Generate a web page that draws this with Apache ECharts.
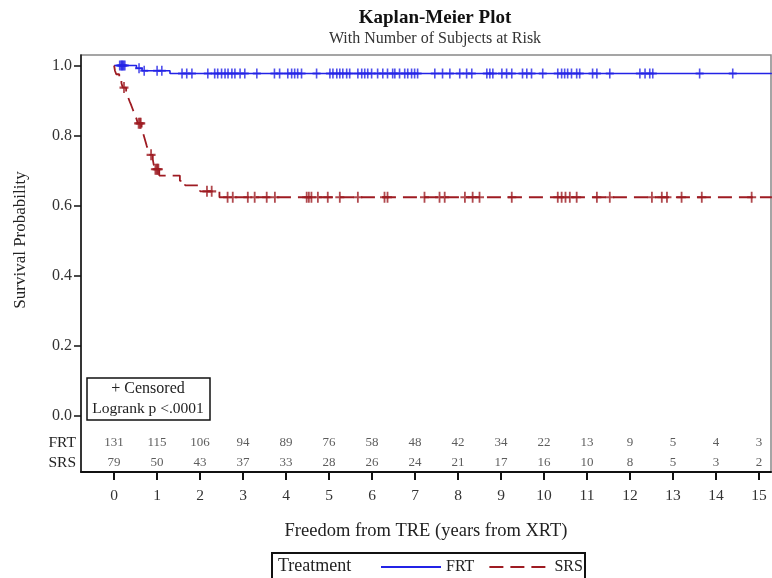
<!DOCTYPE html>
<html><head><meta charset="utf-8">
<script src="https://cdn.jsdelivr.net/npm/echarts@6/dist/echarts.min.js"></script>
<style>html,body{margin:0;padding:0;background:#fff}#c{width:772px;height:578px}</style>
</head><body><div id="c"></div>
<script>
// ---- data ----
const xTicks = [0,1,2,3,4,5,6,7,8,9,10,11,12,13,14,15];
const yTicks = [0,0.2,0.4,0.6,0.8,1.0];
const frtAtRisk = [131,115,106,94,89,76,58,48,42,34,22,13,9,5,4,3];
const srsAtRisk = [79,50,43,37,33,28,26,24,21,17,16,10,8,5,3,2];
// KM steps: [time, survival from that time on]
const frtSteps = [[0,1.0],[0.52,0.992],[0.65,0.985],[1.3,0.977],[15.3,0.977]];
const srsSteps = [[0,1.0],[0.02,0.985],[0.05,0.975],[0.12,0.962],[0.17,0.95],[0.2,0.937],
  [0.28,0.924],[0.32,0.911],[0.36,0.898],[0.4,0.886],[0.44,0.873],[0.48,0.86],[0.52,0.848],
  [0.55,0.835],[0.64,0.822],[0.67,0.809],[0.7,0.796],[0.73,0.783],[0.76,0.77],[0.8,0.757],
  [0.84,0.745],[0.9,0.732],[0.92,0.718],[0.95,0.704],[1.05,0.686],[1.53,0.671],[1.65,0.658],
  [2.0,0.641],[2.45,0.624],[15.3,0.624]];
const frtCensor = [0.13,0.16,0.18,0.2,0.22,0.25,0.58,0.7,1.0,1.11,1.58,1.69,1.81,2.18,2.34,2.41,2.5,2.58,2.65,2.74,2.81,2.93,3.04,
  3.32,3.73,3.85,4.04,4.13,4.2,4.27,4.36,4.71,5.02,5.09,5.18,5.25,5.32,5.41,5.48,5.67,5.76,5.83,5.9,5.99,
  6.13,6.25,6.36,6.48,6.53,6.64,6.76,6.83,6.92,6.99,7.06,7.46,7.64,7.81,8.04,8.2,8.32,8.67,8.74,8.81,
  9.02,9.13,9.25,9.5,9.6,9.71,9.97,10.32,10.41,10.48,10.55,10.64,10.76,10.83,11.13,11.23,11.53,
  12.23,12.35,12.46,12.53,13.62,14.39];
const srsCensor = [0.23,0.57,0.6,0.62,0.86,0.96,0.99,1.01,1.03,2.16,2.27,2.64,2.76,3.11,3.27,3.55,3.74,4.48,4.53,4.59,4.74,4.97,
  5.25,5.67,6.29,6.36,7.22,7.57,7.69,8.16,8.34,8.5,9.25,10.32,10.41,10.5,10.6,10.76,11.23,11.53,
  12.51,12.74,12.86,13.2,13.67,14.83];

// ---- build ----
function survAt(steps, t){ let s = steps[0][1]; for (const [ti,si] of steps){ if (ti <= t) s = si; } return s; }
const FRT_ROW = -0.077, SRS_ROW = -0.134;
const serif = '"Liberation Serif","DejaVu Serif",serif';
const BLUE = '#2323e6', RED = '#9e1b22';
const plus = 'path://M4,0h2v4h4v2h-4v4h-2v-4h-4v-2h4z';

const chart = echarts.init(document.getElementById('c'), null, {renderer:'canvas'});
chart.setOption({
  animation:false,
  textStyle:{fontFamily:serif},
  title:{text:'Kaplan-Meier Plot', subtext:'With Number of Subjects at Risk', left:430, top:4, textAlign:'center', itemGap:3,
    textStyle:{fontFamily:serif, fontSize:19, fontWeight:'bold', color:'#111'},
    subtextStyle:{fontFamily:serif, fontSize:16, color:'#333'}},
  grid:{left:81, right:1, top:55, bottom:106, show:true, borderColor:'#888', borderWidth:1.5, containLabel:false},
  xAxis:{type:'value', min:-0.77, max:15.28,
    name:'Freedom from TRE (years from XRT)', nameLocation:'middle', nameGap:50,
    nameTextStyle:{fontFamily:serif, fontSize:18.5, color:'#222'},
    axisLine:{show:true, onZero:false, lineStyle:{color:'#111', width:2}},
    axisTick:{show:true, customValues:xTicks, length:8, lineStyle:{color:'#111', width:2}},
    axisLabel:{customValues:xTicks, fontFamily:serif, fontSize:15.5, color:'#333', margin:16},
    splitLine:{show:false}},
  yAxis:{type:'value', min:-0.16, max:1.03,
    axisLine:{show:true, onZero:false, lineStyle:{color:'#111', width:1.5}},
    axisTick:{show:true, customValues:yTicks, length:7, lineStyle:{color:'#111', width:1.5}},
    axisLabel:{customValues:yTicks.concat([FRT_ROW,SRS_ROW]), fontFamily:serif, color:'#333', margin:5,
      formatter:v => v < -0.1 ? '{r|SRS}' : (v < 0 ? '{r|FRT}' : '{t|' + v.toFixed(1) + '}'),
      rich:{t:{fontFamily:serif, fontSize:16, color:'#333', padding:[0,4,0,0]},
            r:{fontFamily:serif, fontSize:15.5, color:'#222'}}},
    splitLine:{show:false}},
  legend:{data:['FRT','SRS'], left:375, top:554, itemWidth:60, itemHeight:10, itemGap:14,
    itemStyle:{opacity:0},
    textStyle:{fontFamily:serif, fontSize:16, color:'#222'}},
  graphic:[
    {type:'rect', shape:{x:272, y:553, width:313, height:34}, style:{fill:'none', stroke:'#111', lineWidth:2}},
    {type:'text', x:278, y:566, style:{text:'Treatment', font:'18px '+serif, fill:'#222', verticalAlign:'middle'}},
    {type:'text', x:21, y:240, rotation:Math.PI/2, style:{text:'Survival Probability', font:'17px '+serif, fill:'#222', align:'center', verticalAlign:'middle'}},
    {type:'rect', shape:{x:87, y:378, width:123, height:42}, style:{fill:'#fff', stroke:'#111', lineWidth:1.5}},
    {type:'text', x:148, y:389, style:{text:'+ Censored', font:'16px '+serif, fill:'#222', align:'center', verticalAlign:'middle'}},
    {type:'text', x:148, y:409, style:{text:'Logrank p <.0001', font:'15.5px '+serif, fill:'#222', align:'center', verticalAlign:'middle'}}
  ],
  series:[
    {name:'FRT', type:'line', step:'end', symbol:'none', data:frtSteps, lineStyle:{color:BLUE, width:1.6}, itemStyle:{color:BLUE}, z:3},
    {name:'SRS', type:'line', step:'end', symbol:'none', data:srsSteps, lineStyle:{color:RED, width:1.8, type:[14,7]}, itemStyle:{color:RED}, z:3},
    {name:'FRT censored', type:'scatter', symbol:plus, symbolSize:[8,10], data:frtCensor.map(t=>[t,survAt(frtSteps,t)]), itemStyle:{color:BLUE}, z:4},
    {name:'SRS censored', type:'scatter', symbol:plus, symbolSize:[9,11], data:srsCensor.map(t=>[t,survAt(srsSteps,t)]), itemStyle:{color:RED}, z:4},
    {name:'risk', type:'scatter', symbolSize:0, silent:true,
      data:xTicks.map((x,i)=>[x,FRT_ROW,frtAtRisk[i]]).concat(xTicks.map((x,i)=>[x,SRS_ROW,srsAtRisk[i]])),
      label:{show:true, position:'inside', formatter:p=>String(p.value[2]), fontFamily:serif, fontSize:13, color:'#333'}}
  ]
});
</script></body></html>
